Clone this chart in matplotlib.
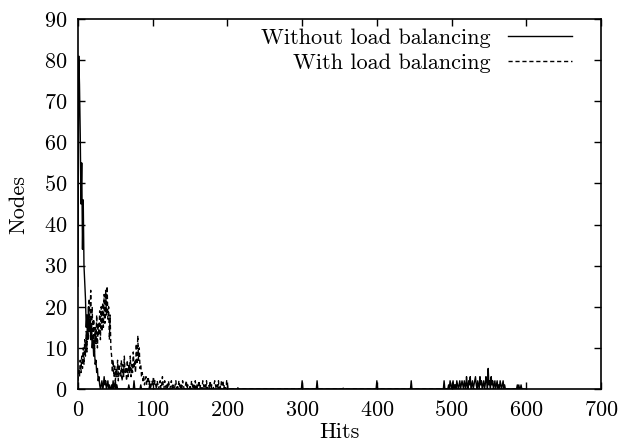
import matplotlib
matplotlib.use("Agg")
import matplotlib.pyplot as plt
import numpy as np

plt.rcParams['font.family'] = ['cmr10', 'DejaVu Serif']
plt.rcParams['axes.formatter.use_mathtext'] = True
plt.rcParams['mathtext.fontset'] = 'cm'

# ---- data: hits -> number of nodes (histogram, one value per hit count) ----
max_hit = 600

# Without load balancing, hits 0..59
without_head = [25, 81, 74, 62, 45, 55, 34, 46, 30, 26,
                22, 15, 18, 12, 20, 14, 17, 12, 15, 10,
                12, 8, 10, 6, 7, 4, 5, 2, 3, 1,
                0, 1, 2, 0, 1, 3, 1, 2, 0, 1,
                2, 0, 1, 0, 0, 1, 0, 2, 0, 1,
                2, 0, 1, 0, 0, 0, 0, 0, 0, 0]
# isolated spikes of the solid curve
without_spike_hits = [68, 75, 84, 96, 300, 320, 400, 446, 490]
without_spike_vals = [1, 2, 1, 1, 2, 2, 2, 2, 2]
# Without load balancing, dense cluster, hits 496..600
without_tail_start = 496
without_tail = [1, 0, 2, 1, 0, 1, 2, 0, 1, 1,
                0, 2, 1, 0, 1, 2, 0, 1, 2, 1,
                0, 2, 1, 0, 3, 1, 0, 2, 1, 3,
                0, 1, 2, 0, 1, 2, 3, 1, 0, 2,
                1, 0, 3, 1, 2, 0, 1, 2, 0, 1,
                3, 2, 0, 5, 1, 2, 0, 3, 1, 2,
                0, 1, 2, 0, 1, 2, 0, 1, 0, 2,
                1, 0, 1, 2, 0, 1, 0, 0, 0, 0,
                0, 0, 0, 0, 0, 0, 0, 0, 0, 0,
                0, 0, 1, 0, 1, 0, 0, 1, 0, 0,
                0, 0, 0, 0, 0]

# With load balancing, hits 0..100
with_head = [2, 5, 3, 7, 4, 8, 5, 10, 6, 12,
             8, 14, 9, 18, 12, 22, 15, 24, 13, 20,
             11, 17, 9, 15, 11, 18, 10, 16, 13, 19,
             12, 20, 14, 21, 15, 23, 16, 24, 18, 25,
             17, 20, 12, 18, 10, 8, 4, 7, 3, 6,
             2, 5, 3, 7, 2, 6, 4, 3, 7, 2,
             6, 3, 8, 4, 5, 2, 7, 3, 6, 4,
             8, 3, 6, 4, 9, 5, 7, 4, 11, 6,
             13, 7, 10, 5, 6, 3, 4, 2, 3, 1,
             2, 3, 1, 2, 3, 1, 2, 0, 1, 2,
             1]
# With load balancing, hits 101..200
with_tail = [3, 1, 2, 1, 0, 2, 1, 0, 1, 2,
             0, 1, 3, 1, 0, 2, 1, 0, 1, 0,
             2, 1, 0, 1, 2, 0, 1, 0, 0, 1,
             2, 0, 1, 0, 2, 1, 0, 1, 0, 2,
             1, 0, 0, 1, 2, 0, 1, 0, 0, 1,
             0, 2, 1, 0, 1, 0, 2, 0, 1, 0,
             1, 2, 0, 1, 0, 0, 2, 1, 0, 1,
             0, 2, 0, 1, 1, 0, 2, 0, 1, 0,
             0, 1, 2, 1, 0, 1, 0, 2, 0, 1,
             0, 2, 1, 2, 0, 1, 0, 0, 2, 1]
with_spike_hits = [214, 355]
with_spike_vals = [0.3, 0.2]

# assemble full histograms (hits with no entry have zero nodes)
hits = np.arange(max_hit + 1)
without_nodes = np.zeros(max_hit + 1)
without_nodes[:len(without_head)] = without_head
without_nodes[without_spike_hits] = without_spike_vals
without_nodes[without_tail_start:without_tail_start + len(without_tail)] = without_tail

with_nodes = np.zeros(max_hit + 1)
with_nodes[:len(with_head)] = with_head
with_nodes[len(with_head):len(with_head) + len(with_tail)] = with_tail
with_nodes[with_spike_hits] = with_spike_vals

fig = plt.figure(figsize=(6.23, 4.45), dpi=100)
ax = fig.add_axes([78/623, 56/445, 523/623, 370/445])

ax.plot(hits, without_nodes, color='black', lw=1.0, label='Without load balancing')
ax.plot(hits, with_nodes, color='black', lw=1.0, dashes=(3, 2), label='With load balancing')

ax.set_xlim(0, 700)
ax.set_ylim(0, 90)
ax.set_xticks(range(0, 701, 100))
ax.set_yticks(range(0, 91, 10))
ax.tick_params(direction='in', length=5, width=1, top=True, right=True,
               labelsize=16, pad=8)
for s in ax.spines.values():
    s.set_linewidth(1.2)

ax.set_xlabel('Hits', fontsize=16, labelpad=2)
ax.set_ylabel('Nodes', fontsize=16, labelpad=11)

leg = ax.legend(loc='upper right', frameon=False, markerfirst=False,
                fontsize=16, handlelength=2.9, handletextpad=0.75,
                labelspacing=0.25, borderaxespad=0.1,
                bbox_to_anchor=(0.966, 1.005))
for t in leg.get_texts():
    t.set_ha('right')

fig.savefig('out.png', dpi=100)
